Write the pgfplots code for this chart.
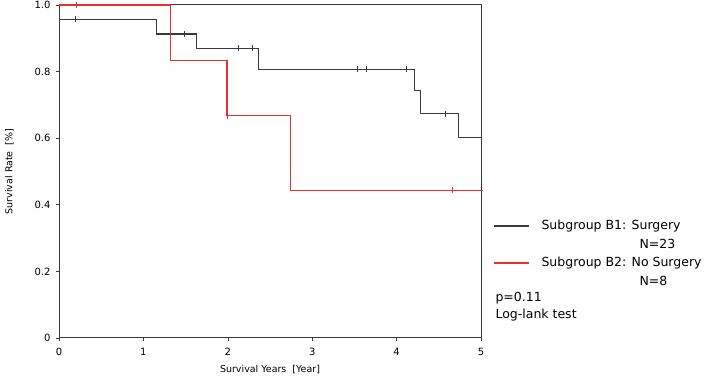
\documentclass[border=0pt]{standalone}
\usepackage{fontspec}
\setmainfont{DejaVu Sans}
\usepackage{pgfplots}
\pgfplotsset{compat=1.18}
\definecolor{kmblack}{HTML}{3A3A3A}
\definecolor{kmred}{HTML}{E8302A}
\begin{document}
\begin{tikzpicture}[x=1pt,y=1pt]
\path[use as bounding box] (0,0) rectangle (709,377);
\begin{axis}[
  at={(59pt,39pt)}, anchor=origin,
  scale only axis, width=422pt, height=333pt,
  xmin=0, xmax=5, ymin=0, ymax=1,
  axis line style={kmblack, line width=1pt},
  xtick={0,1,2,3,4,5},
  ytick={0,0.2,0.4,0.6,0.8,1.0},
  yticklabels={0,0.2,0.4,0.6,0.8,1.0},
  xtick pos=bottom, ytick pos=left,
  tick align=outside, major tick length=3pt,
  tick style={kmblack, line width=0.6pt},
  every tick label/.append style={font=\fontsize{10}{12}\selectfont},
  xticklabel style={yshift=-4pt},
  yticklabel style={xshift=-2pt},
  /pgf/number format/assume math mode=true,
  xlabel={Survival Years\ \ [Year]},
  ylabel={Survival Rate\ \ [\%]},
  label style={font=\fontsize{9.5}{11}\selectfont},
  xlabel style={yshift=-2pt},
  ylabel style={yshift=14pt},
  clip=false,
]
% Subgroup B1: Surgery
\addplot[kmblack, line width=1.1pt, const plot] coordinates {
 (0,1.0) (0.001,0.9565) (1.16,0.913) (1.63,0.870) (2.36,0.807)
 (4.21,0.744) (4.28,0.674) (4.73,0.602) (5.0,0.602)
};
\addplot[kmblack, line width=0.8pt, only marks, mark=|, mark size=3pt] coordinates {
 (0.19,0.9565) (1.49,0.913) (2.12,0.870) (2.29,0.870)
 (3.53,0.807) (3.64,0.807) (4.12,0.807) (4.58,0.674)
};
% Subgroup B2: No Surgery
\addplot[kmred, line width=1.1pt, const plot] coordinates {
 (0,1.0) (1.32,0.833) (1.99,0.667) (2.74,0.444) (5.02,0.444)
};
\addplot[kmred, line width=0.8pt, only marks, mark=|, mark size=3pt] coordinates {
 (0.21,1.0) (2.0,0.667) (4.66,0.444)
};
\end{axis}
\draw[kmblack, line width=1.1pt] (494,151) -- (529,151);
\node[anchor=west, font=\fontsize{12.5}{14}\selectfont] at (538,151) {Subgroup B1: Surgery};
\node[anchor=west, font=\fontsize{12.5}{14}\selectfont] at (636,133) {N=23};
\draw[kmred, line width=1.1pt] (494,114) -- (529,114);
\node[anchor=west, font=\fontsize{12.5}{14}\selectfont] at (538,114) {Subgroup B2: No Surgery};
\node[anchor=west, font=\fontsize{12.5}{14}\selectfont] at (636,96) {N=8};
\node[anchor=west, font=\fontsize{12.5}{14}\selectfont] at (492,79) {p=0.11};
\node[anchor=west, font=\fontsize{12.5}{14}\selectfont] at (492,62) {Log-lank test};
\end{tikzpicture}
\end{document}
